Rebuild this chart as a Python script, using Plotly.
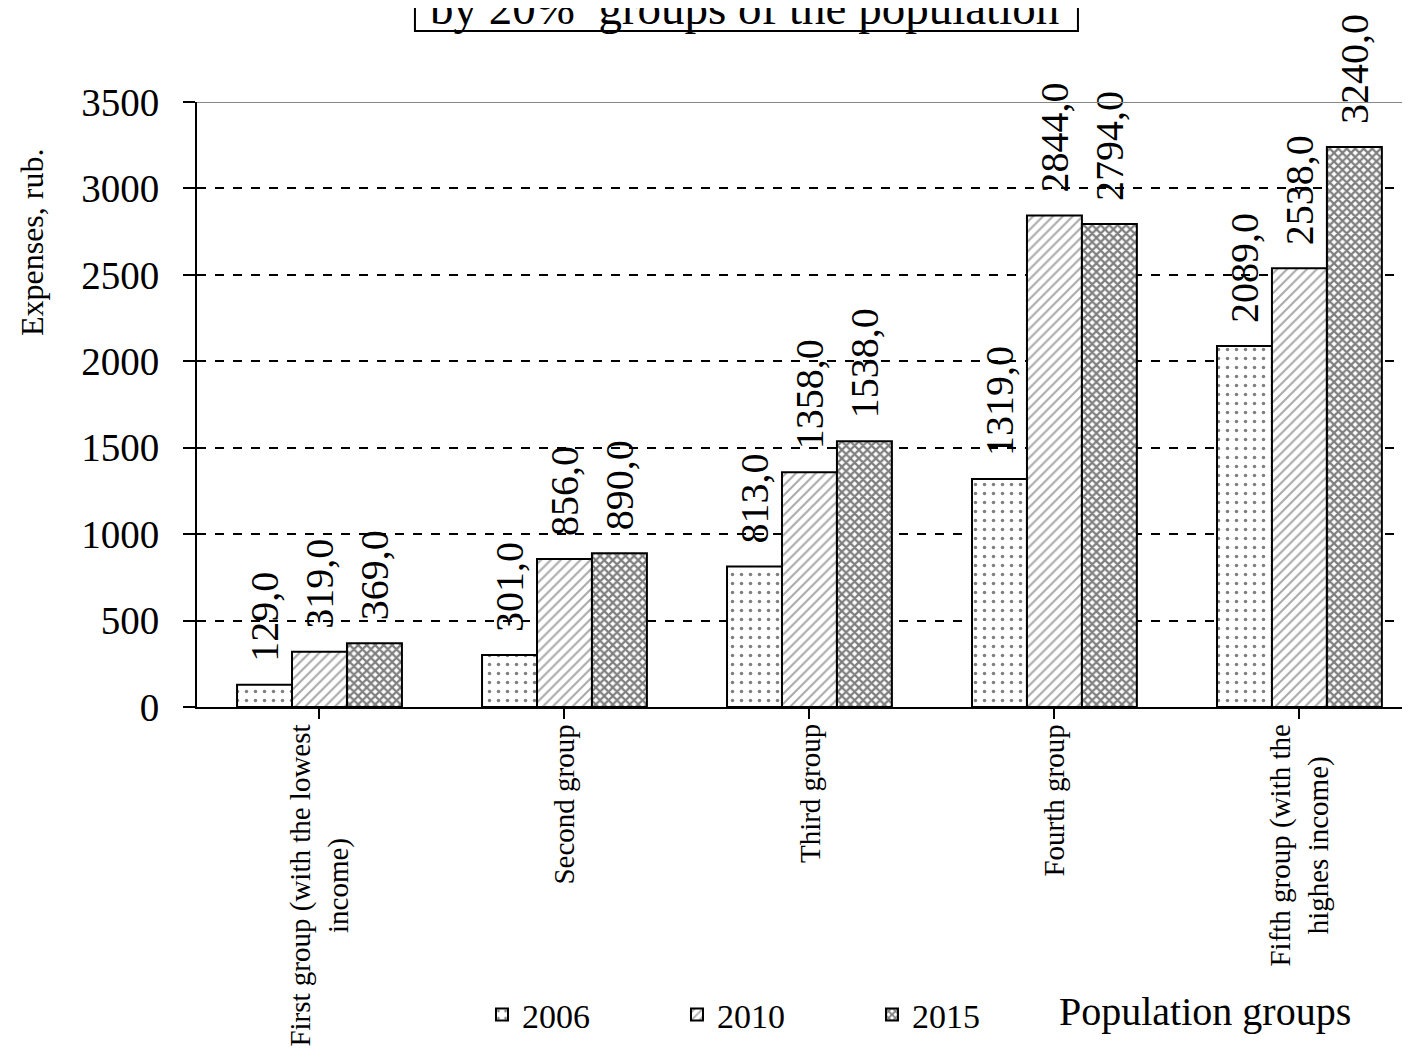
import plotly.graph_objects as go

categories = ["First group (with the lowest<br>income)", "Second group", "Third group",
              "Fourth group", "Fifth group (with the<br>highes income)"]
years = ["2006", "2010", "2015"]
v2006 = [129.0, 301.0, 813.0, 1319.0, 2089.0]
v2010 = [319.0, 856.0, 1358.0, 2844.0, 2538.0]
v2015 = [369.0, 890.0, 1538.0, 2794.0, 3240.0]
yticks = [0, 500, 1000, 1500, 2000, 2500, 3000, 3500]

FONT = "Liberation Serif"
cat_ids = list(range(len(categories)))

patterns = [
    dict(shape=".", fgcolor="black", bgcolor="white", size=9, solidity=0.12),
    dict(shape="/", fgcolor="#555555", bgcolor="white", size=7, solidity=0.3),
    dict(shape="x", fgcolor="black", bgcolor="white", size=6, solidity=0.6),
]

def fmt(v):
    return "\u00a0\u00a0" + f"{v:.1f}".replace(".", ",")

label_font = dict(family=FONT, size=40, color="black")

fig = go.Figure()
for name, vals, pat in zip(years, [v2006, v2010, v2015], patterns):
    fig.add_trace(go.Bar(
        x=cat_ids, y=vals, name=name,
        marker=dict(color="white", pattern=pat, line=dict(color="black", width=2)),
        text=[fmt(v) for v in vals], textposition="outside", textangle=-90,
        constraintext="none", cliponaxis=False,
        textfont=label_font, outsidetextfont=label_font,
    ))

annotations = []
for i, c in enumerate(categories):
    annotations.append(dict(
        x=i, xref="x", y=-0.025, yref="paper", text=c, showarrow=False,
        textangle=-90, xanchor="center", yanchor="top", align="center",
        font=dict(family=FONT, size=29, color="black")))
annotations.append(dict(
    x=-0.1351, xref="paper", y=0.7686, yref="paper", text="Expenses, rub.",
    showarrow=False, textangle=-90, xanchor="center", yanchor="middle",
    font=dict(family=FONT, size=32, color="black")))
annotations.append(dict(
    x=0.8256, xref="paper", y=-0.504, yref="paper", text="Population groups",
    showarrow=False, xanchor="center", yanchor="middle",
    font=dict(family=FONT, size=40, color="black")))
annotations.append(dict(
    x=0.4488, xref="paper", y=1.156, yref="paper",
    text="by 20%\u00a0 groups of the population",
    showarrow=False, xanchor="center", yanchor="middle",
    font=dict(family=FONT, size=47, color="black")))

fig.update_layout(
    width=1410, height=1062,
    margin=dict(l=189, r=0, t=94, b=363, autoexpand=False),
    paper_bgcolor="white", plot_bgcolor="white",
    barmode="group", bargap=0.327, bargroupgap=0,
    font=dict(family=FONT, color="black"),
    showlegend=True,
    legend=dict(orientation="h", x=0.2334, y=-0.509, xanchor="left", yanchor="middle",
                font=dict(family=FONT, size=34, color="black"),
                entrywidth=150, entrywidthmode="pixels", traceorder="normal",
                bgcolor="rgba(0,0,0,0)"),
    annotations=annotations,
    xaxis=dict(range=[-0.5, 4.484], tickmode="array", tickvals=cat_ids,
               showticklabels=False, tickson="boundaries", ticks="outside",
               ticklen=10, tickwidth=2, tickcolor="black",
               showline=True, linecolor="black", linewidth=2, showgrid=False,
               zeroline=False),
    yaxis=dict(range=[0, 3500], tickmode="array", tickvals=yticks,
               ticks="outside", ticklen=12, tickwidth=2, tickcolor="black",
               showline=True, linecolor="black", linewidth=2,
               showgrid=True, gridcolor="black", gridwidth=1.5, griddash="dash",
               zeroline=False, ticklabelstandoff=16,
               tickfont=dict(family=FONT, size=39, color="black")),
    shapes=[
        dict(type="line", xref="paper", yref="y", x0=0, x1=1, y0=3500, y1=3500,
             line=dict(color="#888888", width=2), layer="above"),
        dict(type="rect", xref="paper", yref="paper", x0=0.1785, x1=0.7215,
             y0=1.1174, y1=1.35, line=dict(color="black", width=2),
             fillcolor="rgba(0,0,0,0)", layer="above"),
    ],
)

fig.write_html("out.html")
